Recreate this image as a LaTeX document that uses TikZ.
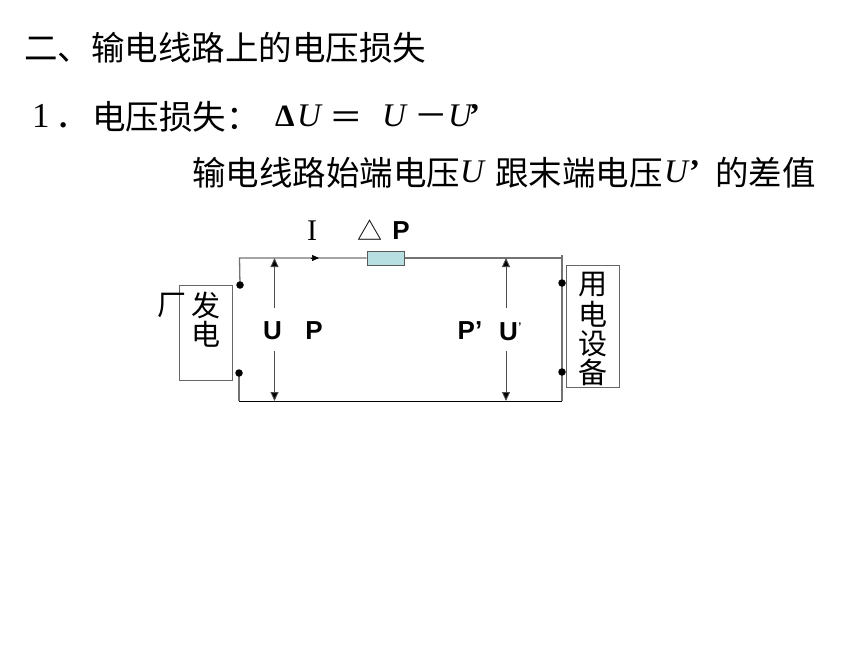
\documentclass[tikz,border=0pt]{standalone}
\usepackage{fontspec}
\usetikzlibrary{arrows.meta}
\setmainfont{Liberation Serif}
\newfontfamily\cjk{Noto Sans CJK SC}[Scale=1]
\newfontfamily\arialf{Liberation Sans}[Scale=1]
\newfontfamily\tnr{Liberation Serif}[Scale=1]
\definecolor{rescol}{HTML}{B7DEE0}
\tikzset{
 cjktext/.style={inner sep=0pt,anchor=west,font=\cjk\fontsize{33.5}{33.5}\selectfont},
 cjksmall/.style={inner sep=0pt,font=\cjk\fontsize{29}{29}\selectfont},
 mathtext/.style={inner sep=0pt,anchor=west,font=\tnr\itshape\fontsize{33}{33}\selectfont},
 labeltext/.style={inner sep=0pt,font=\arialf\bfseries\fontsize{26}{26}\selectfont},
 wiregray/.style={draw=black!55,line width=1.3pt},
 wireblack/.style={draw=black,line width=.9pt},
 boxed/.style={draw=black!60,line width=1pt,fill=none,inner sep=0pt},
 dotnode/.style={circle,fill=black,inner sep=0pt,minimum size=7.5pt},
 voltarrow/.style={draw=black!70,line width=.9pt,-{Triangle[length=9pt,width=8pt,fill=black]}},
}
\begin{document}
\begin{tikzpicture}[x=1pt,y=-1pt]
\useasboundingbox (0,0) rectangle (860,645);
% heading
\node[cjktext] (h1) at (24,48) {二、输电线路上的电压损失};
\node[cjktext,font=\tnr\fontsize{35}{35}\selectfont] (n1) at (32,116) {1};
\node[inner sep=0pt,anchor=base west,font=\tnr\bfseries\fontsize{33}{33}\selectfont] (n1dot) at (59,127) {.};
\node[cjktext] (h2) at (92,117) {电压损失：};
\node[mathtext,font=\tnr\bfseries\fontsize{31}{31}\selectfont] (delta) at (275,116) {Δ};
\node[mathtext] (u1) at (297,116) {U};
\node[cjktext] (eq) at (329,121) {＝};
\node[mathtext] (u2) at (382,116) {U};
\node[cjktext] (minus) at (414,121) {－};
\node[mathtext] (u3) at (448,116) {U\kern-3pt{\bfseries\upshape ’}};
\node[cjktext] (l3a) at (192,173) {输电线路始端电压};
\node[mathtext] (u4) at (460,172) {U};
\node[cjktext] (l3b) at (495,173) {跟末端电压};
\node[mathtext] (u5) at (664,172) {U\kern1pt{\bfseries\upshape ’}};
\node[cjktext] (l3c) at (715,173) {的差值};
% boxes
\node[boxed,minimum width=53pt,minimum height=95pt] (gen) at (205.5,332.5) {};
\node[boxed,minimum width=53pt,minimum height=122pt] (load) at (592.5,326) {};
\node[cjksmall] (g0) at (172,305) {厂};
\node[cjksmall] (g1) at (206,305) {发};
\node[cjksmall] (g2) at (206,334) {电};
\node[cjksmall] (l1) at (593,285) {用};
\node[cjksmall] (l2) at (593,314) {电};
\node[cjksmall] (l3) at (593,344) {设};
\node[cjksmall] (l4) at (593,372) {备};
% resistor
\node[draw=black!65,line width=1pt,fill=rescol,minimum width=37pt,minimum height=14pt,inner sep=0pt] (res) at (385.5,258) {};
% terminals
\coordinate (p1) at (240,285);
\coordinate (p2) at (239,373);
% wire corners
\coordinate (tl) at (239.5,258);
\coordinate (tr) at (562,258);
\coordinate (trup) at (562,255);
\coordinate (bl) at (239,401);
\coordinate (br) at (562,401);
\coordinate (cur) at (319,258);
\coordinate (curs) at (311,258);
\draw[wiregray] (p1) -- (tl) -- (res.west);
\draw[wiregray] (res.east) -- (tr);
\draw[wiregray] (trup) -- (br);
\draw[wiregray] (p2) -- (bl);
\draw[wireblack] (bl) -- (br);
\draw[draw=black,line width=.6pt,-{Triangle[length=7pt,width=6pt]}] (curs) -- (cur);
\node[dotnode] (d1) at (p1) {};
\node[dotnode] (d2) at (p2) {};
\node[dotnode] (d3) at (562,283) {};
\node[dotnode] (d4) at (562,372) {};
% labels
\node[labeltext] (UL) at (272.5,331) {U};
\node[labeltext] (PL) at (314,331) {P};
\node[labeltext] (PR) at (470,331) {P’};
\node[inner sep=0pt,anchor=base west,font=\arialf\bfseries\fontsize{26}{26}\selectfont] (UR) at (499,340) {U\kern.5pt\raisebox{10pt}{\fontsize{11}{11}\selectfont’}};
\node[inner sep=0pt,font=\tnr\fontsize{30}{30}\selectfont] (I) at (312,231) {I};
\node[inner sep=0pt,font=\cjk\fontsize{25}{25}\selectfont] (tri) at (369.5,230.5) {△};
\node[labeltext] (dP) at (401,231) {P};
% voltage arrows
\coordinate (a1t) at (274.5,258);
\coordinate (a1b) at (274.5,401);
\coordinate (a2t) at (506,258);
\coordinate (a2b) at (506,401);
\coordinate (a1m) at (274.5,308);
\coordinate (a1n) at (274.5,351);
\coordinate (a2m) at (506,308);
\coordinate (a2n) at (506,351);
\draw[voltarrow] (a1m) -- (a1t);
\draw[voltarrow] (a1n) -- (a1b);
\draw[voltarrow] (a2m) -- (a2t);
\draw[voltarrow] (a2n) -- (a2b);
\end{tikzpicture}
\end{document}
